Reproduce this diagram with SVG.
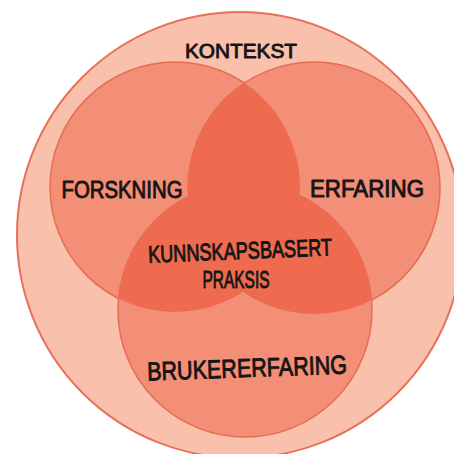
<svg xmlns="http://www.w3.org/2000/svg" width="454" height="454" viewBox="0 0 454 454">
  <style>
    .outer { fill: #F9C1AC; stroke: #E8705A; stroke-width: 2; }
    .set { fill: #F38F77; stroke: #E66C52; stroke-width: 1.5; }
    .overlap { fill: #EE6B4F; stroke: none; }
    .lbl { font-family: "Liberation Sans", "DejaVu Sans", sans-serif; fill: #151515; stroke: #151515; stroke-width: 0.9; stroke-linejoin: round; text-anchor: middle; }
  </style>
  <defs>
    <clipPath id="clipA"><circle cx="175" cy="187" r="125"/></clipPath>
    <clipPath id="clipB"><circle cx="314" cy="188" r="126"/></clipPath>
  </defs>
  <rect width="454" height="454" fill="#FFFFFF"/>
  <g id="kontekst">
    <circle class="outer" cx="240" cy="235" r="223"/>
    <text class="lbl" x="241" y="58" font-size="20" textLength="112" lengthAdjust="spacingAndGlyphs">KONTEKST</text>
  </g>
  <g id="forskning">
    <circle class="set" cx="175" cy="187" r="125"/>
  </g>
  <g id="erfaring">
    <circle class="set" cx="314" cy="188" r="126"/>
  </g>
  <g id="brukererfaring">
    <circle class="set" cx="245" cy="310" r="127"/>
  </g>
  <g id="kunnskapsbasert-praksis">
    <circle class="overlap" cx="314" cy="188" r="126" clip-path="url(#clipA)"/>
    <circle class="overlap" cx="245" cy="310" r="127" clip-path="url(#clipA)"/>
    <circle class="overlap" cx="245" cy="310" r="127" clip-path="url(#clipB)"/>
  </g>
  <g id="labels">
    <text class="lbl" x="122" y="198" font-size="23" textLength="121" lengthAdjust="spacingAndGlyphs">FORSKNING</text>
    <text class="lbl" x="367" y="197" font-size="23" textLength="114" lengthAdjust="spacingAndGlyphs">ERFARING</text>
    <text class="lbl" x="240" y="259" font-size="24" textLength="184" lengthAdjust="spacingAndGlyphs" transform="rotate(-2.3 240 250)">KUNNSKAPSBASERT</text>
    <text class="lbl" x="236" y="288" font-size="24" textLength="67" lengthAdjust="spacingAndGlyphs">PRAKSIS</text>
    <text class="lbl" x="247" y="377" font-size="26" textLength="200" lengthAdjust="spacingAndGlyphs" transform="rotate(-2 247 367)">BRUKERERFARING</text>
  </g>
</svg>
